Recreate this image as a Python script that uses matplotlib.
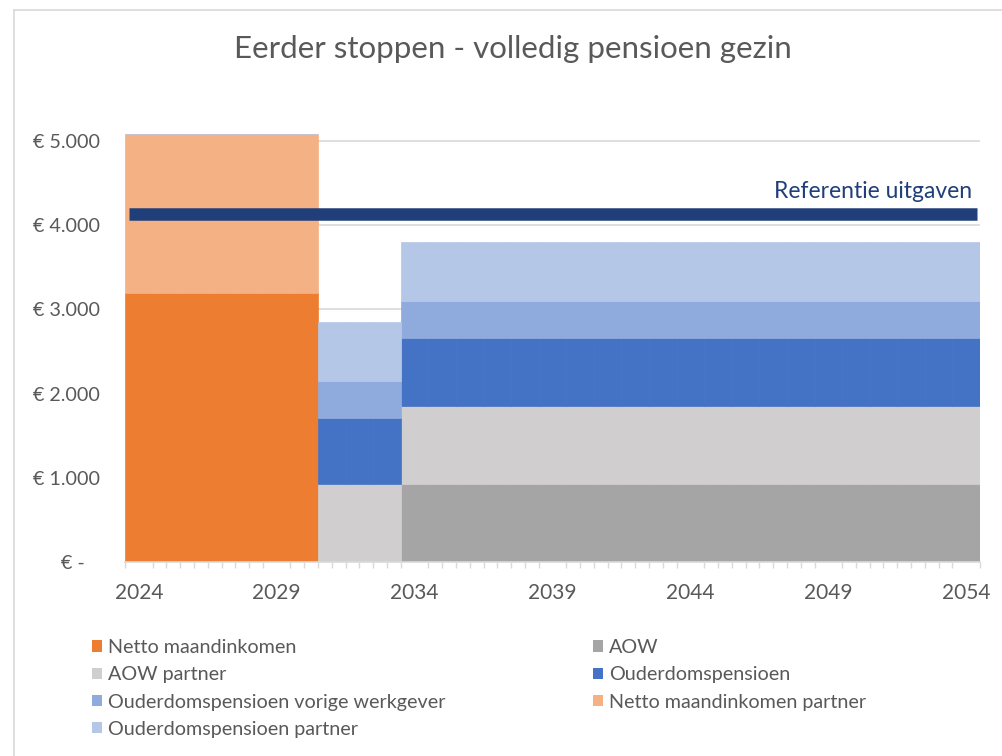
import matplotlib
matplotlib.use("Agg")
import matplotlib.pyplot as plt
from matplotlib.patches import Patch
from matplotlib.lines import Line2D
from matplotlib.ticker import MultipleLocator, FixedLocator, FuncFormatter

plt.rcParams['font.family'] = ['Lato', 'DejaVu Sans']

# ---- data ----
years = list(range(2024, 2055))
netto = [3190] * 7 + [0] * 24
aow = [0] * 10 + [930] * 21
aow_partner = [0] * 7 + [930] * 24
ouderdomspensioen = [0] * 7 + [785] * 3 + [800] * 21
op_vorige = [0] * 7 + [436] * 24
netto_partner = [1896] * 7 + [0] * 24
op_partner = [0] * 7 + [705] * 24
referentie = 4135
ref_start, ref_end = 2023.65, 2054.4

series = [
    ("Netto maandinkomen", netto, "#ED7D31"),
    ("AOW", aow, "#A5A5A5"),
    ("AOW partner", aow_partner, "#D0CECE"),
    ("Ouderdomspensioen", ouderdomspensioen, "#4472C4"),
    ("Ouderdomspensioen vorige werkgever", op_vorige, "#8FAADC"),
    ("Netto maandinkomen partner", netto_partner, "#F4B183"),
    ("Ouderdomspensioen partner", op_partner, "#B4C7E7"),
]
yticks = [0, 1000, 2000, 3000, 4000, 5000]
xtick_years = [2024, 2029, 2034, 2039, 2044, 2049, 2054]

W, H = 1003, 756
fig = plt.figure(figsize=(W / 100, H / 100), dpi=100)
fig.patch.set_facecolor("white")

# frame of chart area
fig.add_artist(Line2D([14 / W, 14 / W], [0, 1 - 10 / H], transform=fig.transFigure, color="#D9D9D9", lw=1.2))
fig.add_artist(Line2D([14 / W, 1], [1 - 10 / H, 1 - 10 / H], transform=fig.transFigure, color="#D9D9D9", lw=1.2))

y0_px, per1000 = 562.3, 84.3
ymax = 5200
top_px = y0_px - ymax / 1000 * per1000
ax = fig.add_axes([125 / W, (H - y0_px) / H, (980 - 125) / W, (y0_px - top_px) / H])

bottom = [0] * len(years)
for name, vals, col in series:
    ax.bar(years, vals, width=1.0, bottom=bottom, color=col, edgecolor=col,
           linewidth=0.5, label=name, zorder=2)
    bottom = [b + v for b, v in zip(bottom, vals)]

ax.plot([ref_start, ref_end], [referentie, referentie], color="#203F7A", lw=9, solid_capstyle="butt", zorder=3)
ax.text(2054.2, referentie + 140, "Referentie uitgaven", color="#203F7A", fontsize=16.5,
        ha="right", va="bottom", zorder=4)

ax.set_xlim(2023.5, 2054.5)
ax.set_ylim(0, ymax)
ax.yaxis.set_major_locator(FixedLocator(yticks))
ax.yaxis.set_major_formatter(FuncFormatter(
    lambda v, p: "€ -   " if v == 0 else "€ " + f"{int(v):,}".replace(",", ".")))
ax.xaxis.set_major_locator(FixedLocator(xtick_years))
ax.xaxis.set_minor_locator(MultipleLocator(0.5))

for ycoord in yticks[1:]:
    ax.plot([2023.5, 2054.5], [ycoord, ycoord], color="#D9D9D9", lw=1.2, zorder=1)

for s in ["top", "right", "left"]:
    ax.spines[s].set_visible(False)
ax.spines["bottom"].set_color("#D9D9D9")
ax.spines["bottom"].set_linewidth(1.2)
ax.spines["bottom"].set_zorder(5)
ax.tick_params(axis="y", length=0, labelsize=14.2, labelcolor="#595959", pad=18)
ax.tick_params(axis="x", which="major", length=0, labelsize=15, labelcolor="#595959", pad=15)
ax.tick_params(axis="x", which="minor", length=4, color="#D9D9D9", width=1)
for lbl in ax.get_yticklabels():
    lbl.set_horizontalalignment("right")

fig.text(513 / W, 1 - 49 / H, "Eerder stoppen - volledig pensioen gezin", ha="center", va="center",
         fontsize=22.5, color="#595959")

handles = {name: Patch(facecolor=col, edgecolor="none") for name, _, col in series}
left_names = ["Netto maandinkomen", "AOW partner", "Ouderdomspensioen vorige werkgever", "Ouderdomspensioen partner"]
right_names = ["AOW", "Ouderdomspensioen", "Netto maandinkomen partner"]
common = dict(frameon=False, fontsize=14.2, labelcolor="#595959", handlelength=0.5, handleheight=0.5,
              handletextpad=0.3, labelspacing=0.52, borderpad=0, borderaxespad=0)
fig.legend([handles[n] for n in left_names], left_names, loc="upper left",
           bbox_to_anchor=(92 / W, 1 - 639 / H), **common)
fig.legend([handles[n] for n in right_names], right_names, loc="upper left",
           bbox_to_anchor=(593 / W, 1 - 639 / H), **common)

fig.savefig("out.png", dpi=100, facecolor="white")
